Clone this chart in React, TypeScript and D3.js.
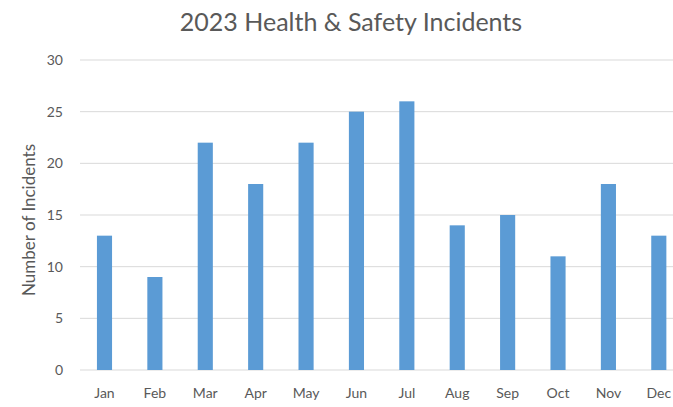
import React from "react";
import * as d3 from "d3";

const months = ["Jan", "Feb", "Mar", "Apr", "May", "Jun", "Jul", "Aug", "Sep", "Oct", "Nov", "Dec"];
const incidents = [13, 9, 22, 18, 22, 25, 26, 14, 15, 11, 18, 13];
const yTicks = [0, 5, 10, 15, 20, 25, 30];
const title = "2023 Health & Safety Incidents";
const yLabel = "Number of Incidents";

const W = 673;
const H = 407;
const FONT = "Lato, 'Open Sans', sans-serif";

export default function App() {
  const x = d3.scaleBand<string>().domain(months).range([79.3, 684]).paddingInner(0.7).paddingOuter(0.35);
  const y = d3.scaleLinear().domain([0, 30]).range([370, 60]);

  return (
    <svg width={W} height={H} style={{ position: "absolute", left: 0, top: 0, background: "#fff" }}>
      <text x={351} y={31} textAnchor="middle" fontFamily={FONT} fontSize={25} fill="#595959">
        {title}
      </text>
      {yTicks.map((t) => (
        <g key={t}>
          <line x1={80} x2={W} y1={y(t)} y2={y(t)} stroke="#D9D9D9" strokeWidth={1} />
          <text x={63} y={y(t)} dy="0.35em" textAnchor="end" fontFamily={FONT} fontSize={14} fill="#595959">
            {t}
          </text>
        </g>
      ))}
      {months.map((m, i) => (
        <rect
          key={m}
          x={x(m)}
          width={x.bandwidth()}
          y={y(incidents[i])}
          height={y(0) - y(incidents[i])}
          fill="#5B9BD5"
        />
      ))}
      {months.map((m) => (
        <text
          key={m}
          x={(x(m) as number) + x.bandwidth() / 2}
          y={393}
          dy="0.35em"
          textAnchor="middle"
          fontFamily={FONT}
          fontSize={14}
          fill="#595959"
        >
          {m}
        </text>
      ))}
      <text
        transform={`translate(29,220) rotate(-90)`}
        textAnchor="middle"
        dy="0.35em"
        fontFamily={FONT}
        fontSize={17}
        fill="#595959"
      >
        {yLabel}
      </text>
    </svg>
  );
}
